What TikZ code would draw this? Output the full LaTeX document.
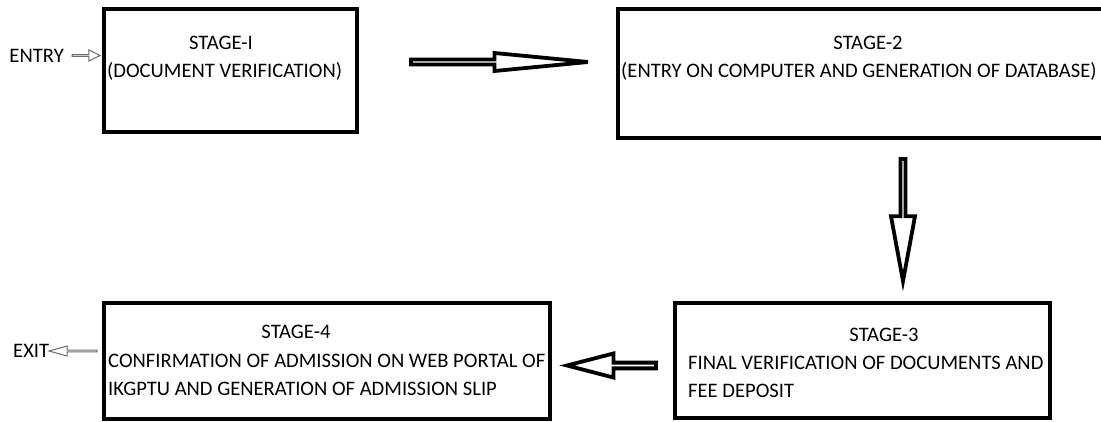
\documentclass[tikz,border=0pt]{standalone}
\usepackage{fontspec}
\setmainfont{Carlito}
\usetikzlibrary{shapes.arrows}
\usetikzlibrary{calc}
\definecolor{thinarrow}{rgb}{0.42,0.42,0.42}
\tikzset{
	stagebox/.style={draw=black, line width=4pt, inner sep=0pt, outer sep=0pt, anchor=north west},
	stagetext/.style={inner sep=0pt, font=\fontsize{20.6}{27.5}\selectfont},
	bigarrow/.style={single arrow, draw=black, line width=3.8pt, inner sep=0pt, outer sep=0pt, anchor=tail, single arrow head indent=0pt},
	smallarrow/.style={single arrow, draw=thinarrow, line width=1pt, inner sep=0pt, outer sep=0pt, anchor=tail, single arrow head indent=0pt}
}
\begin{document}
\begin{tikzpicture}[x=1pt, y=-1pt]
	\useasboundingbox (0,0) rectangle (1101,421);
	
	% stage boxes
	\node[stagebox, minimum width=253pt, minimum height=123pt] (s1) at (104,9) {};
	\node[stagebox, minimum width=492pt, minimum height=129pt] (s2) at (618,9) {};
	\node[stagebox, minimum width=375pt, minimum height=115pt] (s3) at (675,303) {};
	\node[stagebox, minimum width=446pt, minimum height=116pt] (s4) at (104,303) {};
	
	% stage 1
	\node[stagetext, anchor=base] (s1title) at (221,49.5) {STAGE-I};
	\node[stagetext, anchor=base west] (s1body) at (107,77) {(DOCUMENT VERIFICATION)};
	
	% stage 2
	\node[stagetext, anchor=base] (s2title) at (868,49.5) {STAGE-2};
	\node[stagetext, anchor=base west] (s2body) at (621,77) {(ENTRY ON COMPUTER AND GENERATION OF DATABASE)};
	
	% stage 3 (base of a two-line node is its last line)
	\node[stagetext, anchor=base] (s3title) at (884,341.5) {STAGE-3};
	\node[stagetext, anchor=base west, align=left] (s3body) at (688,397) {FINAL VERIFICATION OF DOCUMENTS AND\\FEE DEPOSIT};
	
	% stage 4
	\node[stagetext, anchor=base] (s4title) at (296,338.5) {STAGE-4};
	\node[stagetext, anchor=base west, align=left] (s4body) at (108,395) {CONFIRMATION OF ADMISSION ON WEB PORTAL OF\\IKGPTU AND GENERATION OF ADMISSION SLIP};
	
	% entry and exit
	\node[stagetext, anchor=base east] (entry) at (64,62.5) {ENTRY};
	\node[stagetext, anchor=base west] (exit) at (13,357) {EXIT};
	
	% arrows between the stages
	\node[smallarrow, minimum height=28pt, minimum width=11pt, single arrow head extend=3pt, single arrow tip angle=53] (inarrow) at ($(s1.west)+(-32,-15)$) {};
	\node[bigarrow, minimum height=177pt, minimum width=18pt, single arrow head extend=5pt, single arrow tip angle=11] (a12) at ($(s1.east)+(54,-8.5)$) {};
	\node[bigarrow, minimum height=122pt, minimum width=24pt, single arrow head extend=7.5pt, single arrow tip angle=21, shape border rotate=270] (a23) at ($(s2.south)+(39,21)$) {};
	\node[bigarrow, minimum height=89pt, minimum width=24pt, single arrow head extend=6pt, single arrow tip angle=29, shape border rotate=180] (a34) at ($(s3.west)+(-19,5)$) {};
	\node[smallarrow, minimum height=48pt, minimum width=10pt, single arrow head extend=2.5pt, single arrow tip angle=31, shape border rotate=180] (outarrow) at ($(s4.west)+(-7,-10)$) {};
\end{tikzpicture}
\end{document}
